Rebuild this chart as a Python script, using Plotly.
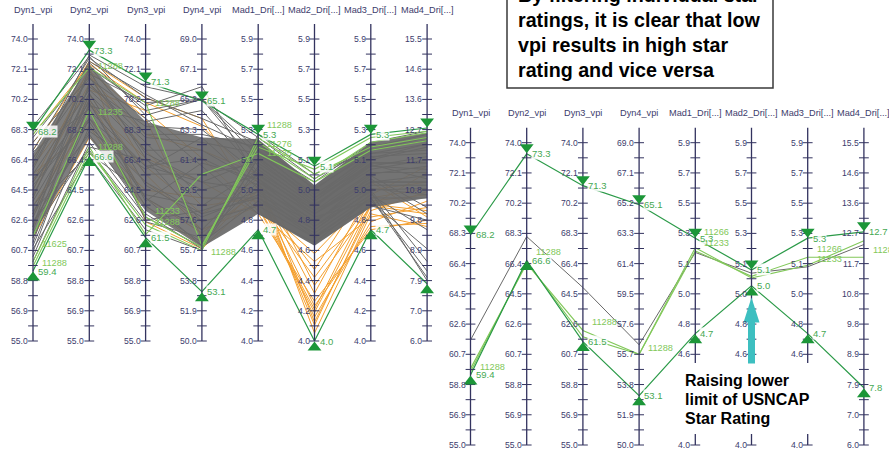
import plotly.graph_objects as go

# ---------------- data ----------------
dims = ["Dyn1_vpi", "Dyn2_vpi", "Dyn3_vpi", "Dyn4_vpi",
        "Mad1_Dri[...]", "Mad2_Dri[...]", "Mad3_Dri[...]", "Mad4_Dri[...]"]
dim_lo = [55.0, 55.0, 55.0, 50.0, 4.0, 4.0, 4.0, 6.0]
dim_hi = [74.0, 74.0, 74.0, 69.0, 5.9, 5.9, 5.9, 15.5]

dyn_ticks = ["74.0", "72.1", "70.2", "68.3", "66.4", "64.5", "62.6", "60.7", "58.8", "56.9", "55.0"]
dyn4_ticks = ["69.0", "67.1", "65.2", "63.3", "61.4", "59.5", "57.6", "55.7", "53.8", "51.9", "50.0"]
mad_ticks = ["5.9", "5.7", "5.5", "5.3", "5.1", "5.0", "4.8", "4.6", "4.4", "4.2", "4.0"]
mad4_ticks = ["15.5", "14.6", "13.6", "12.7", "11.7", "10.8", "9.8", "8.9", "7.9", "7.0", "6.0"]
tick_labels = [dyn_ticks, dyn_ticks, dyn_ticks, dyn4_ticks, mad_ticks, mad_ticks, mad_ticks, mad4_ticks]

# filter limits (selected range)
left_top = [68.2, 73.3, 71.3, 65.1, 5.3, 5.1, 5.3, 12.7]
left_bottom = [59.4, 66.6, 61.5, 53.1, 4.7, 4.0, 4.7, 7.8]
right_top = [68.2, 73.3, 71.3, 65.1, 5.3, 5.1, 5.3, 12.7]
right_bottom = [59.4, 66.6, 61.5, 53.1, 4.7, 5.0, 4.7, 7.8]

# dense gray core of the left panel (upper / lower envelope)
left_core_hi = [66.8, 72.4, 68.8, 62.8, 5.27, 4.98, 5.25, 12.55]
left_core_lo = [61.6, 67.8, 63.2, 55.9, 4.80, 4.60, 4.84, 10.5]

left_gray_lines = [
    [66.0, 72.5, 69.5, 65.2, 5.20, 4.90, 5.15, 12.2],
    [64.5, 71.8, 70.0, 65.2, 5.10, 4.85, 5.10, 11.8],
    [63.0, 71.0, 68.5, 63.3, 5.05, 4.80, 5.05, 11.5],
    [62.0, 70.5, 67.0, 62.0, 5.00, 4.75, 5.00, 11.0],
    [61.0, 69.5, 66.0, 60.0, 4.95, 4.70, 4.95, 10.8],
    [60.3, 68.5, 65.0, 58.0, 4.90, 4.65, 4.90, 10.5],
    [67.0, 72.8, 70.3, 64.0, 5.25, 4.95, 5.20, 12.4],
    [65.0, 70.0, 64.0, 56.0, 5.15, 4.90, 5.18, 12.0],
    [63.5, 68.0, 63.0, 55.8, 5.10, 4.85, 5.12, 11.6],
    [62.5, 67.0, 62.5, 56.5, 5.00, 4.80, 5.00, 11.2],
    [64.0, 72.0, 66.5, 57.5, 4.85, 4.65, 4.85, 9.8],
    [66.5, 71.5, 69.0, 61.0, 4.80, 4.62, 4.90, 8.0],
    [65.5, 70.8, 67.5, 59.0, 4.90, 4.70, 4.95, 8.5],
    [61.5, 69.0, 64.0, 57.0, 5.05, 4.80, 5.02, 10.0],
    [60.0, 67.5, 62.8, 55.9, 5.15, 4.90, 5.10, 11.4],
    [67.8, 72.3, 68.0, 63.0, 5.22, 5.00, 5.25, 12.6],
    [62.8, 70.2, 65.5, 60.5, 5.12, 4.88, 5.14, 12.1],
    [64.8, 69.0, 66.0, 61.5, 4.98, 4.72, 4.98, 10.9],
    [63.2, 66.8, 64.2, 58.5, 5.08, 4.82, 5.06, 11.3],
    [61.2, 71.2, 67.8, 62.5, 5.18, 4.92, 5.16, 11.9],
    [66.2, 73.0, 71.0, 65.2, 5.28, 5.02, 5.22, 12.5],
    [65.2, 68.8, 63.5, 56.2, 4.88, 4.68, 4.92, 9.5],
    [62.2, 72.2, 69.8, 66.0, 5.02, 4.78, 4.88, 8.9],
    [60.8, 66.6, 62.0, 55.7, 5.30, 5.05, 5.20, 12.3],
    [64.2, 70.6, 64.8, 57.8, 4.92, 4.74, 5.04, 10.2],
    [67.5, 71.6, 66.8, 60.0, 5.14, 4.86, 5.08, 11.7],
    [63.8, 69.8, 68.8, 64.5, 5.06, 4.84, 5.11, 11.1],
    [62.5, 68.2, 65.8, 62.8, 4.96, 4.76, 4.96, 10.6],
    [65.8, 72.6, 70.5, 63.6, 5.20, 4.96, 5.18, 12.2],
    [61.8, 67.2, 66.4, 59.5, 5.04, 4.82, 5.00, 11.0],
    [68.5, 72.9, 69.2, 65.2, 5.16, 4.88, 5.12, 11.6],
    [60.6, 70.0, 63.8, 61.2, 5.02, 4.72, 4.94, 7.9],
    [66.9, 69.6, 62.6, 58.2, 4.94, 4.66, 4.90, 8.2],
]

left_orange_lines = [
    [68.0, 72.4, 70.0, 63.5, 5.00, 4.05, 4.80, 9.6],
    [66.5, 72.0, 69.0, 56.5, 4.95, 4.10, 4.85, 10.0],
    [64.5, 71.2, 67.0, 58.5, 4.90, 4.15, 4.75, 10.4],
    [63.0, 70.5, 65.5, 57.0, 4.85, 4.20, 4.90, 10.8],
    [62.2, 69.8, 66.5, 60.0, 4.80, 4.25, 4.70, 9.8],
    [65.5, 68.5, 63.5, 56.0, 4.98, 4.30, 4.95, 11.0],
    [67.5, 71.6, 68.0, 62.0, 5.05, 4.35, 4.85, 11.3],
    [61.5, 67.8, 64.5, 59.0, 4.88, 4.40, 4.88, 10.6],
    [64.0, 72.3, 62.5, 55.8, 4.92, 4.45, 5.00, 9.9],
    [66.0, 70.8, 69.5, 61.5, 4.82, 4.50, 4.78, 10.2],
    [63.5, 69.0, 65.0, 57.5, 4.86, 4.55, 4.92, 11.5],
    [65.0, 71.8, 66.0, 58.0, 5.02, 4.12, 4.82, 10.7],
    [62.8, 70.2, 64.0, 56.8, 4.94, 4.22, 4.72, 9.7],
    [67.0, 72.6, 70.3, 64.0, 4.84, 4.18, 4.86, 10.1],
]

left_green_lines = [
    [59.7, 66.9, 62.3, 55.7, 5.28, 5.05, 5.22, 12.4],
    [61.6, 69.5, 62.8, 55.9, 5.25, 5.02, 5.25, 12.55],
    [68.0, 72.2, 70.0, 56.0, 5.22, 5.08, 5.28, 12.6],
    [60.0, 67.2, 61.7, 60.5, 5.18, 5.00, 5.20, 12.3],
]

right_gray_lines = [
    [61.6, 68.1, 64.9, 56.3, 5.21, 5.08, 5.12, 12.3],
]
right_green_lines = [
    [59.8, 66.4, 62.2, 55.7, 5.22, 5.06, 5.18, 11.9],
    [59.6, 66.5, 61.8, 55.7, 5.24, 5.05, 5.13, 12.42],
]

# record id labels: (text, axis index, value)
left_ids = [("11288", 0, 59.9), ("11625", 0, 61.1), ("11288", 1, 72.3), ("11235", 1, 69.4),
            ("11288", 1, 67.2), ("11288", 2, 70.0), ("11233", 2, 63.2), ("11288", 2, 62.5),
            ("11288", 3, 55.6), ("11288", 4, 5.36), ("11276", 4, 5.24), ("11235", 4, 5.18)]
right_ids = [("11288", 0, 59.9), ("11288", 1, 67.1), ("11288", 2, 62.7), ("11288", 3, 56.1),
             ("11266", 4, 5.34), ("11233", 4, 5.27), ("11266", 6, 5.23), ("11233", 6, 5.17),
             ("11288", 7, 12.13)]

note_lines = ["By filtering individual star", "ratings, it is clear that low",
              "vpi results in high star", "rating and vice versa"]
callout_text = ["Raising lower", "limit of USNCAP", "Star Rating"]

# ---------------- style / geometry ----------------
W, H = 889, 455
FONT = "Liberation Sans, Arial, sans-serif"
AXIS_COL = "#33335f"
TICK_COL = "#3c3c6c"
GRAY = "#696969"
ORANGE = "#f4a030"
LGREEN = "#82c85a"
DGREEN = "#2b9a48"
MARK = "#1c9638"
VAL_COL = "#45a852"

panels = [
    dict(xa="x", ya="y", d0=0, d1=440, px0=33.0, dx=56.3, ytop=39.0, span=302.0, hy=10,
         core=(left_core_hi, left_core_lo), gray=left_gray_lines, orange=left_orange_lines,
         green=left_green_lines, top=left_top, bottom=left_bottom, ids=left_ids, nvals=7,
         covered=set()),
    # tick labels of the right panel hidden behind the callout text
    dict(xa="x2", ya="y2", d0=440, d1=889, px0=470.5, dx=56.2, ytop=142.7, span=302.3, hy=113,
         core=None, gray=right_gray_lines, orange=[], green=right_green_lines,
         top=right_top, bottom=right_bottom, ids=right_ids, nvals=8,
         covered={(4, 8), (4, 9), (5, 8), (5, 9), (6, 8), (6, 9)}),
]


def norm(i, v):
    return (v - dim_lo[i]) / (dim_hi[i] - dim_lo[i])


def lines_xy(rows):
    xs, ys = [], []
    for r in rows:
        for i, v in enumerate(r):
            xs.append(i)
            ys.append(norm(i, v))
        xs.append(None)
        ys.append(None)
    return xs, ys


fig = go.Figure()
annotations = []
shapes = []
seg_alpha = [0.86, 0.86, 0.88, 0.93, 0.98, 0.98, 0.93]

for p in panels:
    xa, ya = p["xa"], p["ya"]
    S = p["span"]
    common = dict(xaxis=xa, yaxis=ya, showlegend=False, hoverinfo="skip")

    if p["orange"]:
        xs, ys = lines_xy(p["orange"])
        fig.add_trace(go.Scatter(x=xs, y=ys, mode="lines", line=dict(color=ORANGE, width=1.0), **common))

    if p["core"] is not None:
        hi, lo = p["core"]
        for i in range(len(dims) - 1):
            fig.add_trace(go.Scatter(
                x=[i, i + 1, i + 1, i],
                y=[norm(i, hi[i]), norm(i + 1, hi[i + 1]), norm(i + 1, lo[i + 1]), norm(i, lo[i])],
                fill="toself", mode="lines", line=dict(width=0),
                fillcolor="rgba(105,105,105,%.2f)" % seg_alpha[i], **common))

    for rows, col, wdt in [(p["gray"], GRAY, 1.0), (p["green"], LGREEN, 1.1)]:
        if rows:
            xs, ys = lines_xy(rows)
            fig.add_trace(go.Scatter(x=xs, y=ys, mode="lines", line=dict(color=col, width=wdt), **common))

    xs, ys = lines_xy([p["top"], p["bottom"]])
    fig.add_trace(go.Scatter(x=xs, y=ys, mode="lines", line=dict(color=DGREEN, width=1.2), **common))

    # parallel axes
    ax_x, ax_y, tx, ty = [], [], [], []
    for i in range(len(dims)):
        ax_x += [i, i, None]
        ax_y += [0, 1 + 15.0 / S, None]
        for k in range(21):
            tx.append(i)
            ty.append(k / 20)
    fig.add_trace(go.Scatter(x=ax_x, y=ax_y, mode="lines", line=dict(color=AXIS_COL, width=1.3), **common))
    fig.add_trace(go.Scatter(x=tx, y=ty, mode="markers",
                             marker=dict(symbol="line-ew", size=7, line=dict(width=1, color=AXIS_COL)),
                             **common))

    # filter markers
    off = 6.5 / S
    fig.add_trace(go.Scatter(x=list(range(8)), y=[norm(i, v) + off for i, v in enumerate(p["top"])],
                             mode="markers", marker=dict(symbol="triangle-down", size=12, color=MARK), **common))
    fig.add_trace(go.Scatter(x=list(range(8)), y=[norm(i, v) - off for i, v in enumerate(p["bottom"])],
                             mode="markers", marker=dict(symbol="triangle-up", size=12, color=MARK), **common))

    # headers & tick labels
    for i, d in enumerate(dims):
        annotations.append(dict(x=i, xref=xa, y=(H - p["hy"]) / H, yref="paper", text=d, showarrow=False,
                                xanchor="center", yanchor="middle",
                                font=dict(family=FONT, size=9.2, color=TICK_COL)))
        for k, lab in enumerate(tick_labels[i]):
            if (i, k) in p["covered"]:
                continue
            annotations.append(dict(x=i, xref=xa, y=1 - k / 10, yref=ya, text=lab, showarrow=False,
                                    xanchor="right", yanchor="middle", xshift=-3,
                                    font=dict(family=FONT, size=8.6, color=TICK_COL)))

    # value labels of filter limits
    for vals in (p["top"], p["bottom"]):
        for i, v in enumerate(vals[:p["nvals"]]):
            annotations.append(dict(x=i, xref=xa, y=norm(i, v), yref=ya, text="%.1f" % v, showarrow=False,
                                    xanchor="left", yanchor="middle", xshift=4, borderpad=0,
                                    bgcolor="rgba(255,255,255,0.85)",
                                    font=dict(family=FONT, size=9.5, color=VAL_COL)))
    for txt, i, v in p["ids"]:
        annotations.append(dict(x=i, xref=xa, y=norm(i, v), yref=ya, text=txt, showarrow=False,
                                xanchor="left", yanchor="middle", xshift=7,
                                font=dict(family=FONT, size=9.2, color=LGREEN)))

# note box (top right)
shapes.append(dict(type="rect", xref="paper", yref="paper", x0=507 / W, x1=773 / W,
                   y0=(H - 88) / H, y1=(H + 20) / H, fillcolor="white",
                   line=dict(color="#3a3a3a", width=1.5), layer="above"))
for k, t in enumerate(note_lines):
    annotations.append(dict(x=516 / W, y=(H - (-5 + 25 * k)) / H, xref="paper", yref="paper",
                            xanchor="left", yanchor="middle", text=t, showarrow=False,
                            font=dict(family=FONT, size=19.7, color="black", weight="bold")))

# callout near the arrow (white background hides the axes behind it)
shapes.append(dict(type="rect", xref="paper", yref="paper", x0=680 / W, x1=815 / W,
                   y0=(H - 434) / H, y1=(H - 363) / H, fillcolor="white",
                   line=dict(width=0), layer="above"))
for k, t in enumerate(callout_text):
    annotations.append(dict(x=683 / W, y=(H - (380 + 19 * k)) / H, xref="paper", yref="paper",
                            xanchor="left", yanchor="middle", text=t, showarrow=False,
                            font=dict(family=FONT, size=16, color="black", weight="bold")))

# cyan arrow pointing at the raised lower limit of Mad2
tip = norm(5, right_bottom[5]) - 11.5 / 302.3
shapes.append(dict(type="path", xref="x2", yref="y2", xsizemode="pixel", ysizemode="pixel",
                   xanchor=5, yanchor=tip,
                   path="M0,0 L8,-25 L3.5,-25 L3.5,-66 L-3.5,-66 L-3.5,-25 L-8,-25 Z",
                   fillcolor="#3dbfc0", line=dict(width=0), layer="above"))

layout_axes = {}
for p, sx, sy in [(panels[0], "xaxis", "yaxis"), (panels[1], "xaxis2", "yaxis2")]:
    xr = [(p["d0"] - p["px0"]) / p["dx"], (p["d1"] - p["px0"]) / p["dx"]]
    yr = [1 - (H - p["ytop"]) / p["span"], 1 + p["ytop"] / p["span"]]
    layout_axes[sx] = dict(domain=[p["d0"] / W, p["d1"] / W], range=xr, visible=False, fixedrange=True)
    layout_axes[sy] = dict(domain=[0, 1], range=yr, visible=False, fixedrange=True)
layout_axes["xaxis2"]["anchor"] = "y2"
layout_axes["yaxis2"]["anchor"] = "x2"

fig.update_layout(width=W, height=H, margin=dict(l=0, r=0, t=0, b=0),
                  paper_bgcolor="white", plot_bgcolor="white",
                  annotations=annotations, shapes=shapes, **layout_axes)

fig.write_html("out.html", config={"displayModeBar": False},
               post_script="document.body.style.margin='0px';")
